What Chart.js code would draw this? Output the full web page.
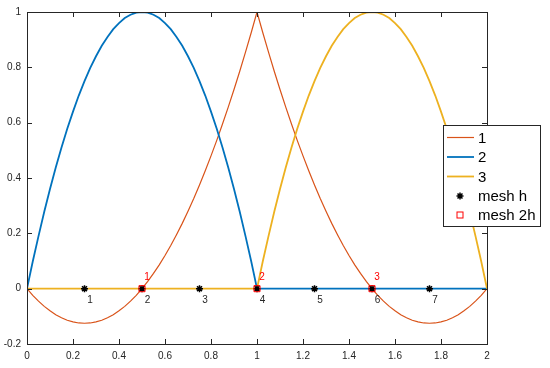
<!DOCTYPE html>
<html lang="en">
<head>
  <meta charset="UTF-8">
  <title>Quadratic basis functions</title>
  <script src="https://cdn.jsdelivr.net/npm/chart.js"></script>
  <style>
    * { margin: 0; padding: 0; box-sizing: border-box; }
    body { background: #fff; }
    .chart-container { position: relative; width: 550px; height: 368px; }
  </style>
</head>
<body>
  <div class="chart-container">
    <canvas id="basisChart"></canvas>
  </div>

  <script>
    // sample points along x (step 0.025)
    const xs = [0, 0.025, 0.05, 0.075, 0.1, 0.125, 0.15, 0.175, 0.2, 0.225, 0.25,
                0.275, 0.3, 0.325, 0.35, 0.375, 0.4, 0.425, 0.45, 0.475, 0.5,
                0.525, 0.55, 0.575, 0.6, 0.625, 0.65, 0.675, 0.7, 0.725, 0.75,
                0.775, 0.8, 0.825, 0.85, 0.875, 0.9, 0.925, 0.95, 0.975, 1,
                1.025, 1.05, 1.075, 1.1, 1.125, 1.15, 1.175, 1.2, 1.225, 1.25,
                1.275, 1.3, 1.325, 1.35, 1.375, 1.4, 1.425, 1.45, 1.475, 1.5,
                1.525, 1.55, 1.575, 1.6, 1.625, 1.65, 1.675, 1.7, 1.725, 1.75,
                1.775, 1.8, 1.825, 1.85, 1.875, 1.9, 1.925, 1.95, 1.975, 2];

    // basis function values
    const phi1 = [0, -0.024, -0.045, -0.064, -0.08, -0.094, -0.105, -0.114, -0.12, -0.124, -0.125,
                  -0.124, -0.12, -0.114, -0.105, -0.094, -0.08, -0.064, -0.045, -0.024, 0,
                  0.026, 0.055, 0.086, 0.12, 0.156, 0.195, 0.236, 0.28, 0.326, 0.375,
                  0.426, 0.48, 0.536, 0.595, 0.656, 0.72, 0.786, 0.855, 0.926, 1,
                  0.926, 0.855, 0.786, 0.72, 0.656, 0.595, 0.536, 0.48, 0.426, 0.375,
                  0.326, 0.28, 0.236, 0.195, 0.156, 0.12, 0.086, 0.055, 0.026, 0,
                  -0.024, -0.045, -0.064, -0.08, -0.094, -0.105, -0.114, -0.12, -0.124, -0.125,
                  -0.124, -0.12, -0.114, -0.105, -0.094, -0.08, -0.064, -0.045, -0.024, 0];
    const phi2 = [0, 0.098, 0.19, 0.278, 0.36, 0.438, 0.51, 0.578, 0.64, 0.698, 0.75,
                  0.798, 0.84, 0.878, 0.91, 0.938, 0.96, 0.978, 0.99, 0.998, 1,
                  0.998, 0.99, 0.978, 0.96, 0.938, 0.91, 0.878, 0.84, 0.798, 0.75,
                  0.698, 0.64, 0.578, 0.51, 0.438, 0.36, 0.278, 0.19, 0.098, 0,
                  0, 0, 0, 0, 0, 0, 0, 0, 0, 0,
                  0, 0, 0, 0, 0, 0, 0, 0, 0, 0,
                  0, 0, 0, 0, 0, 0, 0, 0, 0, 0,
                  0, 0, 0, 0, 0, 0, 0, 0, 0, 0];
    const phi3 = [0, 0, 0, 0, 0, 0, 0, 0, 0, 0, 0,
                  0, 0, 0, 0, 0, 0, 0, 0, 0, 0,
                  0, 0, 0, 0, 0, 0, 0, 0, 0, 0,
                  0, 0, 0, 0, 0, 0, 0, 0, 0, 0,
                  0.098, 0.19, 0.278, 0.36, 0.438, 0.51, 0.578, 0.64, 0.698, 0.75,
                  0.798, 0.84, 0.878, 0.91, 0.938, 0.96, 0.978, 0.99, 0.998, 1,
                  0.998, 0.99, 0.978, 0.96, 0.938, 0.91, 0.878, 0.84, 0.798, 0.75,
                  0.698, 0.64, 0.578, 0.51, 0.438, 0.36, 0.278, 0.19, 0.098, 0];

    // mesh nodes
    const meshH = [0.25, 0.5, 0.75, 1, 1.25, 1.5, 1.75];
    const meshHLabels = ['1', '2', '3', '4', '5', '6', '7'];
    const mesh2h = [0.5, 1, 1.5];
    const mesh2hLabels = ['1', '2', '3'];

    const seriesNames = ['1', '2', '3', 'mesh h', 'mesh 2h'];

    const xTicks = [0, 0.2, 0.4, 0.6, 0.8, 1, 1.2, 1.4, 1.6, 1.8, 2];
    const yTicks = [-0.2, 0, 0.2, 0.4, 0.6, 0.8, 1];

    const C1 = '#d95319', C2 = '#0072bd', C3 = '#edb120', AX = '#262626';
    const FONT = 'Arial, "Liberation Sans", sans-serif';

    const pts = (xv, yv) => xv.map((x, i) => ({ x: x, y: yv[i] }));

    // inward ticks, box, node labels and the legend box
    const decor = {
      id: 'decor',
      afterDatasetsDraw(chart) {
        const c = chart.ctx, a = chart.chartArea;
        const sx = chart.scales.x, sy = chart.scales.y;
        c.save();
        c.strokeStyle = AX;
        c.lineWidth = 1;
        c.beginPath();
        xTicks.forEach(v => {
          const px = Math.round(sx.getPixelForValue(v)) + 0.5;
          c.moveTo(px, a.bottom); c.lineTo(px, a.bottom - 5);
          c.moveTo(px, a.top); c.lineTo(px, a.top + 5);
        });
        yTicks.forEach(v => {
          const py = Math.round(sy.getPixelForValue(v)) + 0.5;
          c.moveTo(a.left, py); c.lineTo(a.left + 5, py);
          c.moveTo(a.right, py); c.lineTo(a.right - 5, py);
        });
        c.stroke();
        c.strokeRect(Math.round(a.left) + 0.5, Math.round(a.top) + 0.5,
                     Math.round(a.right - a.left), Math.round(a.bottom - a.top));

        // node numbers
        c.font = '10px ' + FONT;
        c.textAlign = 'center';
        c.textBaseline = 'middle';
        c.fillStyle = AX;
        meshH.forEach((v, i) => {
          c.fillText(meshHLabels[i], sx.getPixelForValue(v) + 5.5, sy.getPixelForValue(0) + 12);
        });
        c.fillStyle = '#ff0000';
        mesh2h.forEach((v, i) => {
          c.fillText(mesh2hLabels[i], sx.getPixelForValue(v) + 5, sy.getPixelForValue(0) - 11);
        });

        // legend
        const lx = 443.5, ly = 125.5, lw = 97, lh = 101;
        c.fillStyle = '#fff';
        c.fillRect(lx, ly, lw, lh);
        c.strokeStyle = AX;
        c.strokeRect(lx, ly, lw, lh);
        const rows = [137.5, 157, 176.5, 196, 215];
        const cols = [C1, C2, C3];
        const widths = [1.2, 1.8, 1.8];
        c.font = '15px ' + FONT;
        c.textAlign = 'left';
        c.textBaseline = 'middle';
        rows.forEach((ry, i) => {
          if (i < 3) {
            c.strokeStyle = cols[i];
            c.lineWidth = widths[i];
            c.beginPath();
            c.moveTo(447, ry); c.lineTo(474, ry);
            c.stroke();
          } else if (i === 3) {
            c.strokeStyle = '#000';
            c.fillStyle = '#000';
            c.lineWidth = 1.5;
            Chart.helpers.drawPoint(c, { pointStyle: 'star', radius: 3.5, rotation: 0, borderWidth: 1.5 }, 460, ry);
          } else {
            c.strokeStyle = '#ff0000';
            c.lineWidth = 1;
            c.strokeRect(457, ry - 3, 6, 6);
          }
          c.fillStyle = '#000';
          c.fillText(seriesNames[i], 478, ry + 1);
        });
        c.restore();
      }
    };

    const ctx = document.getElementById('basisChart').getContext('2d');
    new Chart(ctx, {
      type: 'scatter',
      data: {
        datasets: [
          { label: seriesNames[0], data: pts(xs, phi1), showLine: true, borderColor: C1,
            borderWidth: 1.2, pointRadius: 0, order: 5 },
          { label: seriesNames[1], data: pts(xs, phi2), showLine: true, borderColor: C2,
            borderWidth: 1.8, pointRadius: 0, order: 4 },
          { label: seriesNames[2], data: pts(xs, phi3), showLine: true, borderColor: C3,
            borderWidth: 1.8, pointRadius: 0, order: 3 },
          { label: seriesNames[3], data: meshH.map(x => ({ x: x, y: 0 })), showLine: false,
            pointStyle: 'star', pointRadius: 3.5, borderColor: '#000', pointBorderWidth: 1.5, order: 2 },
          { label: seriesNames[4], data: mesh2h.map(x => ({ x: x, y: 0 })), showLine: false,
            pointStyle: 'rect', pointRadius: 4.3, borderColor: '#ff0000',
            backgroundColor: 'rgba(0,0,0,0)', pointBorderWidth: 1, order: 1 }
        ]
      },
      options: {
        responsive: true,
        maintainAspectRatio: false,
        animation: false,
        layout: { padding: { left: 0, right: 63, top: 12, bottom: 0 } },
        scales: {
          x: {
            type: 'linear', min: 0, max: 2,
            afterFit: s => { s.height = 24; },
            afterBuildTicks: s => { s.ticks = xTicks.map(v => ({ value: v })); },
            grid: { display: false, drawTicks: false },
            border: { display: false },
            ticks: { color: AX, font: { family: FONT, size: 10 }, padding: 6, maxRotation: 0,
                     callback: v => String(v) }
          },
          y: {
            type: 'linear', min: -0.2, max: 1,
            afterFit: s => { s.width = 27; },
            afterBuildTicks: s => { s.ticks = yTicks.map(v => ({ value: v })); },
            grid: { display: false, drawTicks: false },
            border: { display: false },
            ticks: { color: AX, font: { family: FONT, size: 10 }, padding: 6,
                     callback: v => String(v) }
          }
        },
        plugins: {
          legend: { display: false },
          tooltip: { enabled: false }
        }
      },
      plugins: [decor]
    });
  </script>
</body>
</html>
